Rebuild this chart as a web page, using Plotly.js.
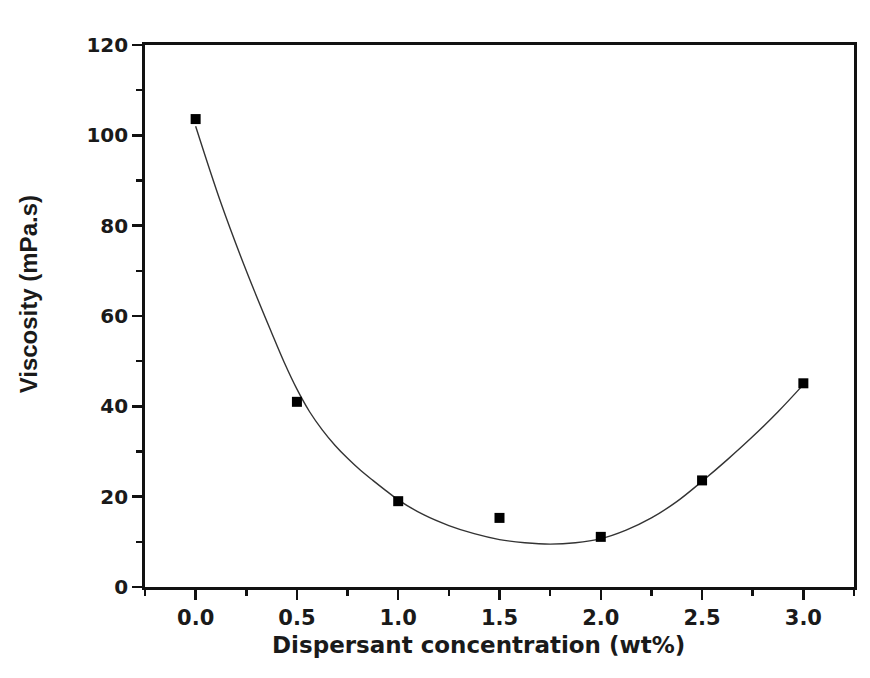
<!DOCTYPE html>
<html>
<head>
<meta charset="utf-8">
<script src="https://cdn.plot.ly/plotly-3.0.1.min.js"></script>
<style>html,body{margin:0;padding:0;background:#fff;}#chart{width:870px;height:678px;}</style>
</head>
<body>
<div id="chart"></div>
<script>
// Measured data points
var concentration = [0.0, 0.5, 1.0, 1.5, 2.0, 2.5, 3.0];
var viscosity = [103.6, 41.0, 19.0, 15.3, 11.1, 23.6, 45.1];

// Fitted curve
var fitX = [0.0, 0.125, 0.25, 0.375, 0.4375, 0.5, 0.5625, 0.625, 0.6875, 0.75, 0.8125, 0.875, 0.9375, 1.0, 1.125, 1.25, 1.375, 1.5, 1.625, 1.75, 1.875, 2.0, 2.125, 2.25, 2.375, 2.5, 2.625, 2.75, 2.875, 3.0];
var fitY = [102.0, 85.0, 70.0, 56.3, 49.7, 43.8, 38.8, 34.8, 31.4, 28.5, 25.9, 23.6, 21.4, 19.3, 16.0, 13.6, 11.8, 10.5, 9.8, 9.5, 9.8, 10.7, 12.6, 15.3, 18.9, 23.4, 28.2, 33.3, 38.8, 44.8];

// Axis ticks and titles
var xTickVals = [0.0, 0.5, 1.0, 1.5, 2.0, 2.5, 3.0];
var xTickText = ["0.0", "0.5", "1.0", "1.5", "2.0", "2.5", "3.0"];
var yTickVals = [0, 20, 40, 60, 80, 100, 120];
var yTickText = ["0", "20", "40", "60", "80", "100", "120"];
var xTitle = "Dispersant concentration (wt%)";
var yTitle = "Viscosity (mPa.s)";

var wideFont = "DejaVu Sans, Verdana, sans-serif";
var narrowFont = "Liberation Sans, Arial, sans-serif";

var traces = [
  {
    x: fitX, y: fitY, mode: "lines", type: "scatter",
    line: {color: "#333", width: 1.4, shape: "spline", smoothing: 1},
    hoverinfo: "skip", showlegend: false
  },
  {
    x: concentration, y: viscosity, mode: "markers", type: "scatter",
    marker: {symbol: "square", size: 10, color: "#000"},
    showlegend: false
  }
];

var axisCommon = {
  showline: true, linecolor: "#111", linewidth: 2.8, mirror: true,
  showgrid: false, zeroline: false,
  ticks: "outside", ticklen: 10, tickwidth: 2.5, tickcolor: "#111",
  tickfont: {family: wideFont, size: 21, color: "#1a1a1a", weight: "bold"}
};

var layout = {
  width: 870, height: 678,
  margin: {l: 145, r: 16, t: 45, b: 91},
  paper_bgcolor: "#fff", plot_bgcolor: "#fff",
  showlegend: false,
  xaxis: Object.assign({}, axisCommon, {
    range: [-0.25, 3.25],
    tickmode: "array", tickvals: xTickVals, ticktext: xTickText,
    minor: {dtick: 0.25, tick0: 0, ticks: "outside", ticklen: 6, tickwidth: 2.5, tickcolor: "#111"}
  }),
  yaxis: Object.assign({}, axisCommon, {
    range: [0, 120],
    tickmode: "array", tickvals: yTickVals, ticktext: yTickText,
    tickfont: {family: wideFont, size: 20, color: "#1a1a1a", weight: "bold"},
    minor: {dtick: 10, tick0: 0, ticks: "outside", ticklen: 6, tickwidth: 2.5, tickcolor: "#111"}
  }),
  annotations: [
    {text: xTitle, xref: "paper", yref: "paper", x: 0.47, y: -0.107,
     xanchor: "center", yanchor: "middle", showarrow: false,
     font: {family: wideFont, size: 23, color: "#1a1a1a", weight: "bold"}},
    {text: yTitle, xref: "paper", yref: "paper", x: -0.165, y: 0.54,
     xanchor: "center", yanchor: "middle", showarrow: false, textangle: -90,
     font: {family: narrowFont, size: 24, color: "#1a1a1a", weight: "bold"}}
  ]
};

Plotly.newPlot("chart", traces, layout, {displayModeBar: false, staticPlot: true});
</script>
</body>
</html>
